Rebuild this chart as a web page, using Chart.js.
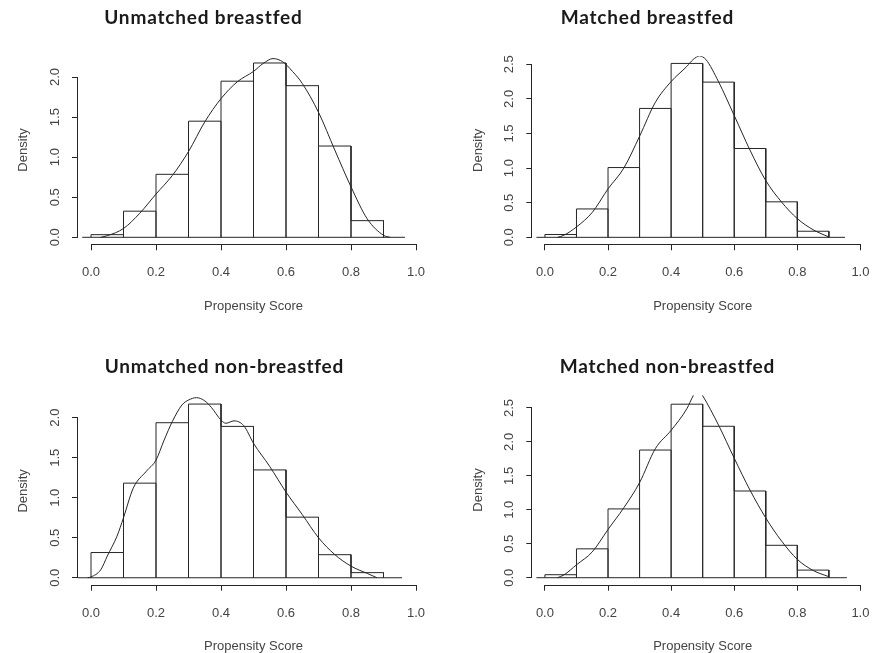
<!DOCTYPE html>
<html>
<head>
<meta charset="utf-8">
<script src="https://cdn.jsdelivr.net/npm/chart.js@4.4.1/dist/chart.umd.min.js"></script>
<style>
  html, body { margin: 0; padding: 0; background: #fff; }
  #wrap { position: relative; width: 882px; height: 653px; overflow: hidden; background: #fff; }
  canvas { position: absolute; }
</style>
</head>
<body>
<div id="wrap">
  <canvas id="c1" width="441" height="326" style="left:0px;top:0px"></canvas>
  <canvas id="c2" width="443" height="326" style="left:441px;top:0px"></canvas>
  <canvas id="c3" width="441" height="340" style="left:0px;top:326px"></canvas>
  <canvas id="c4" width="443" height="340" style="left:441px;top:326px"></canvas>
</div>
<script>
// ---------------- DATA ----------------
const panelTitles = ['Unmatched breastfed', 'Matched breastfed', 'Unmatched non-breastfed', 'Matched non-breastfed'];
const xTitle = 'Propensity Score';
const yTitle = 'Density';

const binEdges = [0, 0.1, 0.2, 0.3, 0.4, 0.5, 0.6, 0.7, 0.8, 0.9];
const xTicks = [0, 0.2, 0.4, 0.6, 0.8, 1.0];
const yTicksTo2 = [0, 0.5, 1.0, 1.5, 2.0];
const yTicksTo25 = [0, 0.5, 1.0, 1.5, 2.0, 2.5];

// histogram densities per bin
const unmatchedBreastfed    = [0.033, 0.326, 0.786, 1.449, 1.948, 2.175, 1.892, 1.139, 0.208];
const matchedBreastfed      = [0.041, 0.410, 1.008, 1.862, 2.512, 2.242, 1.283, 0.513, 0.088];
const unmatchedNonBreastfed = [0.315, 1.182, 1.937, 2.170, 1.891, 1.347, 0.757, 0.288, 0.064];
const matchedNonBreastfed   = [0.044, 0.425, 1.013, 1.880, 2.555, 2.230, 1.277, 0.477, 0.112];

// kernel density curves
const densX1 = [0.03, 0.05, 0.1, 0.15, 0.2, 0.25, 0.3, 0.35, 0.4, 0.45, 0.5, 0.53, 0.56, 0.59, 0.62, 0.65, 0.7, 0.75, 0.8, 0.85, 0.9, 0.92];
const densY1 = [0, 0.02, 0.11, 0.30, 0.54, 0.77, 1.07, 1.44, 1.73, 1.94, 2.07, 2.17, 2.23, 2.19, 2.07, 1.92, 1.56, 1.09, 0.63, 0.23, 0.025, 0];

const densX2 = [0.04, 0.06, 0.1, 0.15, 0.2, 0.25, 0.3, 0.35, 0.4, 0.45, 0.47, 0.49, 0.51, 0.55, 0.6, 0.65, 0.7, 0.75, 0.8, 0.85, 0.9];
const densY2 = [0, 0.03, 0.15, 0.36, 0.70, 1.00, 1.46, 1.95, 2.25, 2.47, 2.57, 2.62, 2.57, 2.25, 1.76, 1.26, 0.82, 0.51, 0.27, 0.11, 0.005];

const densX3 = [-0.01, 0.0, 0.03, 0.05, 0.08, 0.1, 0.13, 0.17, 0.2, 0.225, 0.25, 0.28, 0.3, 0.325, 0.35, 0.37, 0.4, 0.415, 0.44, 0.47, 0.5, 0.55, 0.6, 0.65, 0.7, 0.75, 0.8, 0.85, 0.88];
const densY3 = [0, 0.01, 0.10, 0.27, 0.52, 0.75, 1.12, 1.33, 1.47, 1.72, 1.95, 2.16, 2.22, 2.25, 2.21, 2.13, 1.97, 1.93, 1.96, 1.90, 1.68, 1.39, 1.07, 0.79, 0.50, 0.29, 0.145, 0.054, 0];

const densX4 = [0.04, 0.06, 0.1, 0.15, 0.2, 0.25, 0.3, 0.35, 0.4, 0.45, 0.47, 0.485, 0.5, 0.55, 0.6, 0.65, 0.7, 0.75, 0.8, 0.85, 0.9];
const densY4 = [0, 0.04, 0.19, 0.38, 0.71, 1.03, 1.40, 1.90, 2.17, 2.49, 2.68, 2.78, 2.68, 2.25, 1.76, 1.29, 0.88, 0.54, 0.27, 0.107, 0.015];

// extent of the zero line under each histogram
const zeroLine1 = [-0.027, 0.966];
const zeroLine2 = [-0.027, 0.951];
const zeroLine3 = [-0.045, 0.957];
const zeroLine4 = [-0.027, 0.957];

// axis ranges
const xRange = [-0.04, 1.04];
const yRange1 = [-0.0872, 2.266];
const yRange2 = [-0.1006, 2.615];
const yRange3 = [-0.0868, 2.257];
const yRange4 = [-0.103, 2.686];

// ---------------- LAYOUT / STYLE ----------------
const AXIS_W = 78, AXIS_H = 75;
const INK = '#262626';
const TXT = '#444';
Chart.defaults.font.family = "'Liberation Sans', Arial, sans-serif";
Chart.defaults.font.size = 13;

const panels = [
  { id: 'c1', title: panelTitles[0], bars: unmatchedBreastfed, dx: densX1, dy: densY1, zero: zeroLine1, yr: yRange1, yt: yTicksTo2,
    ca: [78, 55.7, 429, 244.3], tpos: [203, 24], tw: 197 },
  { id: 'c2', title: panelTitles[1], bars: matchedBreastfed, dx: densX2, dy: densY2, zero: zeroLine2, yr: yRange2, yt: yTicksTo25,
    ca: [91.3, 56.3, 442, 244.3], tpos: [206, 24], tw: 172 },
  { id: 'c3', title: panelTitles[2], bars: unmatchedNonBreastfed, dx: densX3, dy: densY3, zero: zeroLine3, yr: yRange3, yt: yTicksTo2,
    ca: [78, 71.1, 429, 258.7], tpos: [224, 46.7], tw: 238 },
  { id: 'c4', title: panelTitles[3], bars: matchedNonBreastfed, dx: densX4, dy: densY4, zero: zeroLine4, yr: yRange4, yt: yTicksTo25,
    ca: [91.3, 69.3, 442, 258.7], tpos: [226, 46.7], tw: 214 }
];

// R-style axis lines (only between first and last tick) and the panel title
const rStyle = {
  id: 'rStyle',
  afterDraw(chart, args, opts) {
    const { ctx, chartArea } = chart;
    const xs = chart.scales.x, ys = chart.scales.y;
    ctx.save();
    ctx.strokeStyle = INK;
    ctx.lineWidth = 1;
    ctx.beginPath();
    const yb = Math.round(chartArea.bottom) + 0.5;
    ctx.moveTo(xs.getPixelForValue(xTicks[0]), yb);
    ctx.lineTo(xs.getPixelForValue(xTicks[xTicks.length - 1]), yb);
    const xl = Math.round(chartArea.left) - 0.5;
    ctx.moveTo(xl, ys.getPixelForValue(opts.yt[0]));
    ctx.lineTo(xl, ys.getPixelForValue(opts.yt[opts.yt.length - 1]));
    ctx.stroke();
    ctx.fillStyle = '#1a1a1a';
    ctx.font = "bold 19px Lato, 'Open Sans', sans-serif";
    const w0 = ctx.measureText(opts.title).width;
    const n = opts.title.length - 1;
    const sp = Math.max(-1, Math.min(2, (opts.tw - w0) / n));
    ctx.letterSpacing = sp.toFixed(2) + 'px';
    ctx.textAlign = 'center';
    ctx.textBaseline = 'alphabetic';
    ctx.fillText(opts.title, opts.tpos[0] + sp / 2, opts.tpos[1]);
    ctx.restore();
  }
};

function makeChart(p) {
  const el = document.getElementById(p.id);
  const W = el.width, H = el.height;
  const nb = p.bars.length;
  const mids = p.bars.map((v, i) => (binEdges[i] + binEdges[i + 1]) / 2);
  // outline of each histogram rectangle, traced from the bins
  const outline = [];
  p.bars.forEach((h, i) => {
    outline.push({ x: binEdges[i], y: 0 }, { x: binEdges[i], y: h }, { x: binEdges[i + 1], y: h }, { x: binEdges[i + 1], y: 0 });
  });
  new Chart(el, {
    type: 'bar',
    data: {
      datasets: [
        { type: 'line', label: 'density', data: p.dx.map((x, i) => ({ x, y: p.dy[i] })), borderColor: INK, borderWidth: 1,
          pointRadius: 0, cubicInterpolationMode: 'monotone', fill: false, order: 0 },
        { type: 'line', label: 'outline', data: outline, borderColor: INK, borderWidth: 1, tension: 0,
          pointRadius: 0, fill: false, borderJoinStyle: 'miter', borderCapStyle: 'butt', order: 1 },
        { type: 'line', label: 'zero', data: p.zero.map(x => ({ x, y: 0 })), borderColor: INK, borderWidth: 1,
          pointRadius: 0, fill: false, order: 1 },
        { type: 'bar', label: 'histogram', data: p.bars.map((v, i) => ({ x: mids[i], y: v })), backgroundColor: '#fff',
          borderWidth: 0, barPercentage: 1, categoryPercentage: 1, inflateAmount: 0, order: 2 }
      ]
    },
    options: {
      responsive: false, animation: false, events: [],
      layout: { padding: { left: p.ca[0] - AXIS_W, top: p.ca[1], right: W - p.ca[2], bottom: H - p.ca[3] - AXIS_H } },
      plugins: {
        legend: { display: false }, tooltip: { enabled: false }, title: { display: false },
        rStyle: { title: p.title, tpos: p.tpos, yt: p.yt, tw: p.tw }
      },
      scales: {
        x: {
          type: 'linear', min: xRange[0], max: xRange[1], offset: false,
          afterBuildTicks: s => { s.ticks = xTicks.map(v => ({ value: v })); },
          afterFit: s => { s.height = AXIS_H; },
          grid: { offset: false, drawOnChartArea: false, drawTicks: true, tickLength: 6, color: INK, lineWidth: 1 },
          border: { display: false },
          ticks: { callback: v => Number(v).toFixed(1), color: TXT, padding: 14.5, maxRotation: 0, autoSkip: false },
          title: { display: true, text: xTitle, color: TXT, padding: { top: 0, bottom: 5.5 } }
        },
        y: {
          type: 'linear', min: p.yr[0], max: p.yr[1],
          afterBuildTicks: s => { s.ticks = p.yt.map(v => ({ value: v })); },
          afterFit: s => { s.width = AXIS_W; },
          grid: { drawOnChartArea: false, drawTicks: true, tickLength: 6, color: INK, lineWidth: 1 },
          border: { display: false },
          ticks: { callback: v => Number(v).toFixed(1), color: TXT, padding: 8, minRotation: 90, maxRotation: 90,
                   crossAlign: 'center', autoSkip: false },
          title: { display: true, text: yTitle, color: TXT, padding: { top: 16, bottom: 0 } }
        }
      }
    },
    plugins: [rStyle]
  });
}

panels.forEach(makeChart);
</script>
</body>
</html>
